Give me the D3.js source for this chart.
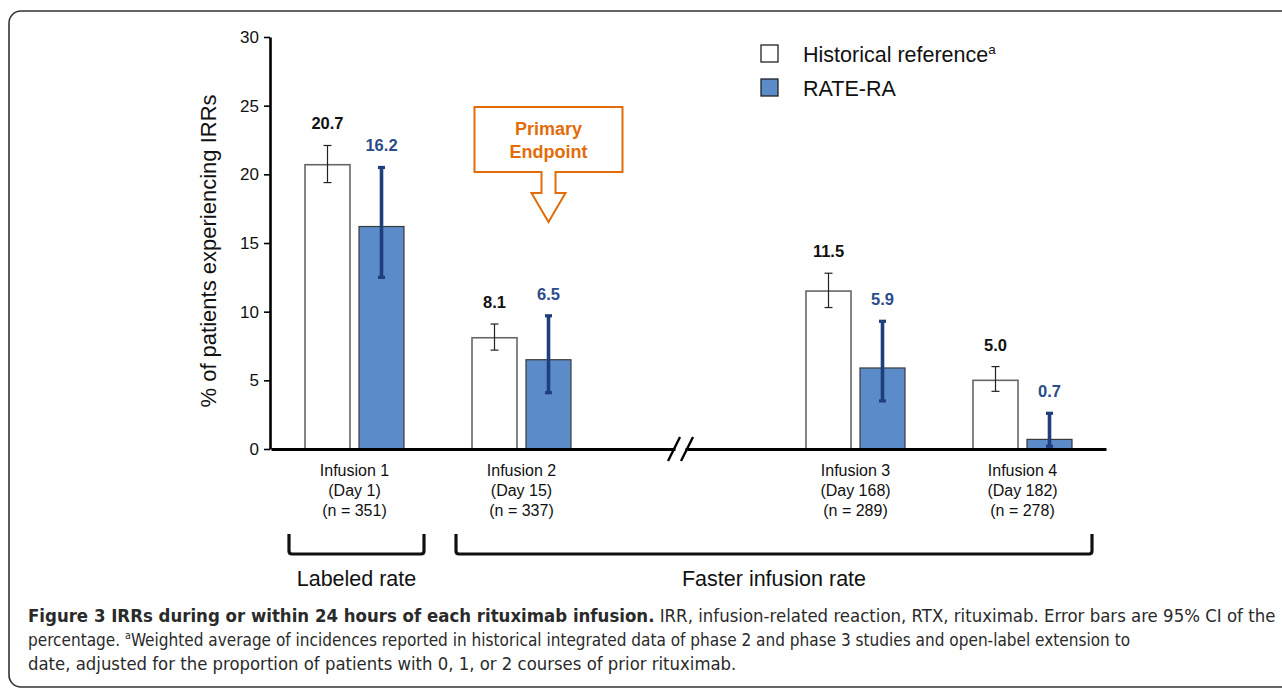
<!DOCTYPE html>
<html>
<head>
<meta charset="utf-8">
<script src="https://cdn.jsdelivr.net/npm/d3@7"></script>
<style>
  body { margin: 0; background: #fff; }
  svg { display: block; font-family: "Liberation Sans", Arial, sans-serif; }
</style>
</head>
<body>
<svg id="chart" width="1282" height="688"></svg>
<script>
// chart values
const categories = ['Infusion 1', 'Infusion 2', 'Infusion 3', 'Infusion 4'];
const dayLabels = ['(Day 1)', '(Day 15)', '(Day 168)', '(Day 182)'];
const nLabels = ['(n = 351)', '(n = 337)', '(n = 289)', '(n = 278)'];
const slots = ['Infusion 1', 'Infusion 2', 'break', 'Infusion 3', 'Infusion 4'];
const seriesNames = ['Historical reference', 'RATE-RA'];

const historical = [20.7, 8.1, 11.5, 5.0];
const historicalLow = [19.4, 7.2, 10.3, 4.2];
const historicalHigh = [22.1, 9.1, 12.8, 6.0];

const rateRA = [16.2, 6.5, 5.9, 0.7];
const rateLow = [12.5, 4.1, 3.5, 0.2];
const rateHigh = [20.5, 9.7, 9.3, 2.6];

const yTicks = [0, 5, 10, 15, 20, 25, 30];

const rateGroups = ['Labeled rate', 'Faster infusion rate'];
const rateGroupSpans = [['Infusion 1', 'Infusion 1'], ['Infusion 2', 'Infusion 4']];

const calloutLines = ['Primary', 'Endpoint'];
const calloutTarget = 'Infusion 2';

const captionBold = 'Figure 3 IRRs during or within 24 hours of each rituximab infusion.';
const captionLines = [
  ' IRR, infusion-related reaction, RTX, rituximab. Error bars are 95% CI of the',
  'percentage. ',
  'date, adjusted for the proportion of patients with 0, 1, or 2 courses of prior rituximab.'
];
const captionLine2Rest = 'Weighted average of incidences reported in historical integrated data of phase 2 and phase 3 studies and open-label extension to';

const blueFill = '#5b8cc9';
const blueDark = '#1f3f7c';
const orange = '#e36c0a';

const svg = d3.select('#chart');

// outer frame
svg.append('rect')
  .attr('x', 9).attr('y', 11)
  .attr('width', 1320).attr('height', 676)
  .attr('rx', 12)
  .attr('fill', 'none')
  .attr('stroke', '#333')
  .attr('stroke-width', 1.6);

const x = d3.scaleBand().domain(slots).range([271, 1106]);
const sub = d3.scaleBand().domain(seriesNames).range([-49.5, 49.5]).paddingInner(0.1667);
const y = d3.scaleLinear().domain([0, 30]).range([449, 37]);
const cx = c => x(c) + x.bandwidth() / 2;

// y axis
const yAxis = svg.append('g')
  .attr('transform', 'translate(270,0)')
  .call(d3.axisLeft(y).tickValues(yTicks).tickSize(6).tickSizeOuter(0).tickPadding(5));
yAxis.select('.domain').attr('stroke', '#000').attr('stroke-width', 2.6);
yAxis.selectAll('.tick line').attr('stroke', '#000').attr('stroke-width', 1.6);
yAxis.selectAll('.tick text')
  .attr('font-size', 17)
  .attr('font-family', '"Liberation Sans", Arial, sans-serif')
  .attr('fill', '#111');

svg.append('text')
  .attr('transform', `translate(216,${(y(0) + y(30)) / 2 + 8}) rotate(-90)`)
  .attr('text-anchor', 'middle')
  .attr('font-size', 22)
  .attr('fill', '#111')
  .text('% of patients experiencing IRRs');

// bars
const rows = categories.map((c, i) => ({
  cat: c,
  vals: [
    { s: seriesNames[0], v: historical[i], lo: historicalLow[i], hi: historicalHigh[i] },
    { s: seriesNames[1], v: rateRA[i], lo: rateLow[i], hi: rateHigh[i] }
  ]
}));

const groups = svg.selectAll('g.grp')
  .data(rows)
  .enter()
  .append('g')
  .attr('class', 'grp')
  .attr('transform', d => `translate(${cx(d.cat)},0)`);

groups.selectAll('rect')
  .data(d => d.vals)
  .enter()
  .append('rect')
  .attr('x', d => sub(d.s))
  .attr('width', sub.bandwidth())
  .attr('y', d => y(d.v))
  .attr('height', d => y(0) - y(d.v))
  .attr('fill', (d, i) => i === 0 ? '#fff' : blueFill)
  .attr('stroke', (d, i) => i === 0 ? '#666' : '#3a3a3a')
  .attr('stroke-width', (d, i) => i === 0 ? 1.6 : 1.2);

// error bars
const err = groups.selectAll('g.err')
  .data(d => d.vals)
  .enter()
  .append('g')
  .attr('class', 'err')
  .attr('transform', d => `translate(${sub(d.s) + sub.bandwidth() / 2},0)`);

err.append('line')
  .attr('y1', d => y(d.lo)).attr('y2', d => y(d.hi))
  .attr('stroke', (d, i) => i === 0 ? '#222' : blueDark)
  .attr('stroke-width', (d, i) => i === 0 ? 1.2 : 3.6);
err.selectAll('line.cap')
  .data(d => [d.lo, d.hi].map(v => ({ v: v, s: d.s })))
  .enter()
  .append('line')
  .attr('class', 'cap')
  .attr('x1', d => d.s === seriesNames[0] ? -4 : -3.5)
  .attr('x2', d => d.s === seriesNames[0] ? 4 : 3.5)
  .attr('y1', d => y(d.v)).attr('y2', d => y(d.v))
  .attr('stroke', d => d.s === seriesNames[0] ? '#222' : blueDark)
  .attr('stroke-width', d => d.s === seriesNames[0] ? 1.2 : 3.2);

// value labels
err.append('text')
  .attr('y', d => y(d.hi) - 16)
  .attr('text-anchor', 'middle')
  .attr('font-size', 16.5)
  .attr('font-weight', 'bold')
  .attr('fill', (d, i) => i === 0 ? '#111' : '#2b4b8a')
  .text(d => d.v.toFixed(1));

// x axis
const xAxis = svg.append('g')
  .attr('transform', `translate(0,${y(0)})`)
  .call(d3.axisBottom(x).tickValues([]).tickSizeOuter(0));
xAxis.select('.domain').attr('stroke', '#000').attr('stroke-width', 3);

// axis break
const bx = cx('break') - 8;
svg.append('rect')
  .attr('x', bx - 5).attr('y', y(0) - 3)
  .attr('width', 10).attr('height', 6)
  .attr('fill', '#fff');
svg.selectAll('line.brk')
  .data([-6.5, 6.5])
  .enter()
  .append('line')
  .attr('class', 'brk')
  .attr('x1', d => bx + d - 6).attr('y1', y(0) + 12)
  .attr('x2', d => bx + d + 6).attr('y2', y(0) - 12)
  .attr('stroke', '#000')
  .attr('stroke-width', 2.4);

// category labels
const catText = svg.selectAll('text.cat')
  .data(categories)
  .enter()
  .append('text')
  .attr('class', 'cat')
  .attr('x', d => cx(d))
  .attr('y', 476)
  .attr('text-anchor', 'middle')
  .attr('font-size', 16)
  .attr('fill', '#111');
catText.each(function (d, i) {
  const t = d3.select(this);
  [d, dayLabels[i], nLabels[i]].forEach((s, k) => {
    t.append('tspan').attr('x', cx(d)).attr('dy', k === 0 ? 0 : 20).text(s);
  });
});

// brackets under the axis
rateGroups.forEach((g, i) => {
  const left = x(rateGroupSpans[i][0]) + 18;
  const right = x(rateGroupSpans[i][1]) + x.bandwidth() - 14;
  svg.append('path')
    .attr('d', `M${left},534 L${left},551 Q${left},554 ${left + 3},554 L${right - 3},554 Q${right},554 ${right},551 L${right},534`)
    .attr('fill', 'none')
    .attr('stroke', '#111')
    .attr('stroke-width', 3.2);
  svg.append('text')
    .attr('x', (left + right) / 2)
    .attr('y', 586)
    .attr('text-anchor', 'middle')
    .attr('font-size', 21.5)
    .attr('fill', '#111')
    .text(g);
});

// primary endpoint callout
const px = cx(calloutTarget) + 27;
const callout = svg.append('g').attr('transform', `translate(${px},0)`);
callout.append('path')
  .attr('d', 'M-74,107 L74,107 L74,172 L7,172 L7,193 L17,193 L0,222 L-17,193 L-7,193 L-7,172 L-74,172 Z')
  .attr('fill', '#fff')
  .attr('stroke', orange)
  .attr('stroke-width', 2);
callout.selectAll('text')
  .data(calloutLines)
  .enter()
  .append('text')
  .attr('y', (d, i) => 135 + i * 23)
  .attr('text-anchor', 'middle')
  .attr('font-size', 18)
  .attr('font-weight', 'bold')
  .attr('fill', orange)
  .text(d => d);

// legend
const legend = svg.append('g').attr('transform', 'translate(761,45)');
legend.selectAll('rect')
  .data(seriesNames)
  .enter()
  .append('rect')
  .attr('x', 0).attr('y', (d, i) => i * 34)
  .attr('width', 17).attr('height', 17)
  .attr('fill', (d, i) => i === 0 ? '#fff' : blueFill)
  .attr('stroke', '#222')
  .attr('stroke-width', 1.3);
const legText = legend.selectAll('text')
  .data(seriesNames)
  .enter()
  .append('text')
  .attr('x', 42).attr('y', (d, i) => 16.5 + i * 34)
  .attr('font-size', 21.5)
  .attr('fill', '#111')
  .text(d => d);
legText.filter((d, i) => i === 0)
  .append('tspan')
  .attr('dy', -8)
  .attr('font-size', 13.5)
  .text('a');

// caption
const capFont = '"Liberation Sans Narrow", "DejaVu Sans Condensed", "Open Sans", sans-serif';
const capWidths = [1248, 1103, 709];
const capBase = [622, 646, 670];
const capTexts = [];

let t1 = svg.append('text').attr('font-family', capFont).attr('font-size', 17.5).attr('fill', '#2a2a2a');
t1.append('tspan').attr('font-weight', 'bold').text(captionBold);
t1.append('tspan').text(captionLines[0]);
capTexts.push(t1);

let t2 = svg.append('text').attr('font-family', capFont).attr('font-size', 17.5).attr('fill', '#2a2a2a');
t2.append('tspan').text(captionLines[1]);
t2.append('tspan').attr('font-size', 11).attr('dy', -7).text('a');
t2.append('tspan').attr('dy', 7).text(captionLine2Rest);
capTexts.push(t2);

let t3 = svg.append('text').attr('font-family', capFont).attr('font-size', 17.5).attr('fill', '#2a2a2a');
t3.text(captionLines[2]);
capTexts.push(t3);

capTexts.forEach((t, i) => {
  const w = t.node().getBBox().width;
  const k = capWidths[i] / w;
  t.attr('transform', `translate(28,${capBase[i]}) scale(${k},1)`);
});
</script>
</body>
</html>
